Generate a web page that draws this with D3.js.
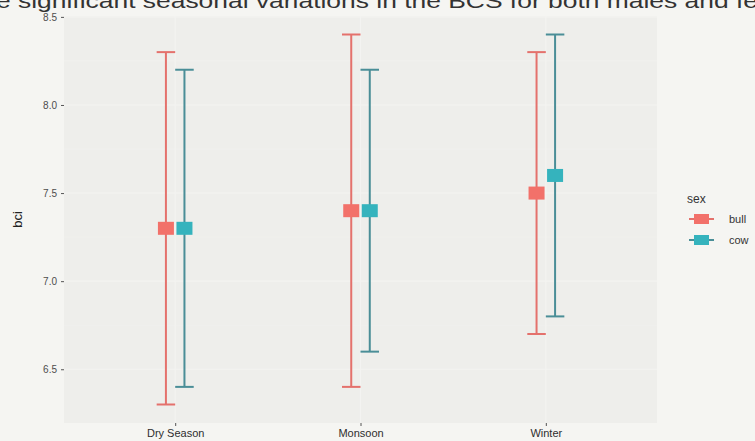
<!DOCTYPE html>
<html>
<head>
<meta charset="utf-8">
<script src="https://cdn.jsdelivr.net/npm/d3@7"></script>
<style>
  html, body { margin: 0; padding: 0; background: #f5f5f2; }
  svg { display: block; font-family: "Liberation Sans", Arial, sans-serif; }
</style>
</head>
<body>
<svg id="chart" width="755" height="441"></svg>
<script>
// Seasonal body condition index (bci) by sex: mean with lower/upper range
const seasons = ["Dry Season", "Monsoon", "Winter"];
const sexes = ["bull", "cow"];
const bullMean = [7.3, 7.4, 7.5];
const bullLow  = [6.3, 6.4, 6.7];
const bullHigh = [8.3, 8.4, 8.3];
const cowMean  = [7.3, 7.4, 7.6];
const cowLow   = [6.4, 6.6, 6.8];
const cowHigh  = [8.2, 8.2, 8.4];
const yTicks = [6.5, 7.0, 7.5, 8.0, 8.5];
const captionText = "e significant seasonal variations in the BCS for both males and fe";

const colors = { bull: "#f2716a", cow: "#35b3bd" };
const barColors = { bull: "#e4716c", cow: "#4a8e97" };

const rows = [];
seasons.forEach((s, i) => {
  rows.push({ season: s, sex: "bull", mean: bullMean[i], low: bullLow[i], high: bullHigh[i] });
  rows.push({ season: s, sex: "cow",  mean: cowMean[i],  low: cowLow[i],  high: cowHigh[i] });
});

const svg = d3.select("#chart");
const panel = { left: 64, right: 657, top: 16, bottom: 423 };

// continuous y with 5% expansion of the data range
const yMin = d3.min(rows, d => d.low), yMax = d3.max(rows, d => d.high);
const pad = (yMax - yMin) * 0.05;
const y = d3.scaleLinear().domain([yMin - pad, yMax + pad]).range([panel.bottom, panel.top]);
const x = d3.scalePoint().domain(seasons).range([panel.left, panel.right]).padding(0.6);
const step = x.step();
const dodge = d3.scalePoint().domain(sexes).range([-0.05 * step, 0.05 * step]);

// caption line running off the top edge
svg.append("text")
  .attr("x", -4).attr("y", 8)
  .attr("font-size", 21).attr("fill", "#333")
  .attr("textLength", 762).attr("lengthAdjust", "spacingAndGlyphs")
  .text(captionText);

// panel background and grid
svg.append("rect")
  .attr("x", panel.left).attr("y", panel.top)
  .attr("width", panel.right - panel.left).attr("height", panel.bottom - panel.top)
  .attr("fill", "#eeeeeb");

const minor = d3.range(yTicks.length - 1).map(i => (yTicks[i] + yTicks[i + 1]) / 2);
svg.append("g").selectAll("line").data(minor).join("line")
  .attr("x1", panel.left).attr("x2", panel.right)
  .attr("y1", d => y(d)).attr("y2", d => y(d))
  .attr("stroke", "#f2f2f0").attr("stroke-width", 0.6);
svg.append("g").selectAll("line").data(yTicks).join("line")
  .attr("x1", panel.left).attr("x2", panel.right)
  .attr("y1", d => y(d)).attr("y2", d => y(d))
  .attr("stroke", "#f3f3f1").attr("stroke-width", 1.1);
svg.append("g").selectAll("line").data(seasons).join("line")
  .attr("x1", d => x(d)).attr("x2", d => x(d))
  .attr("y1", panel.top).attr("y2", panel.bottom)
  .attr("stroke", "#f3f3f1").attr("stroke-width", 1.1);

// axes
const yAxis = d3.axisLeft(y).tickValues(yTicks).tickFormat(d3.format(".1f")).tickSize(3).tickPadding(4);
const gy = svg.append("g").attr("transform", `translate(${panel.left},0)`).call(yAxis);
gy.select(".domain").remove();
gy.selectAll(".tick line").attr("stroke", "#555").attr("stroke-width", 1);
gy.selectAll(".tick text").attr("fill", "#4d4d4d").attr("font-size", 10).attr("font-family", "Liberation Sans, Arial, sans-serif");

const xAxis = d3.axisBottom(x).tickSize(3).tickPadding(3);
const gx = svg.append("g").attr("transform", `translate(0,${panel.bottom})`).call(xAxis);
gx.select(".domain").remove();
gx.selectAll(".tick line").attr("stroke", "#555").attr("stroke-width", 1);
gx.selectAll(".tick text").attr("fill", "#2e2e2e").attr("font-size", 11).attr("font-family", "Liberation Sans, Arial, sans-serif");

svg.append("text")
  .attr("transform", `translate(22,${(panel.top + panel.bottom) / 2}) rotate(-90)`)
  .attr("text-anchor", "middle").attr("font-size", 13).attr("fill", "#222")
  .text("bci");

// error bars
const half = 0.05 * step;
const eb = svg.append("g").selectAll("g").data(rows).join("g")
  .attr("stroke", d => barColors[d.sex]).attr("stroke-width", 2).attr("fill", "none");
eb.append("line")
  .attr("x1", d => x(d.season) + dodge(d.sex)).attr("x2", d => x(d.season) + dodge(d.sex))
  .attr("y1", d => y(d.low)).attr("y2", d => y(d.high));
eb.append("line")
  .attr("x1", d => x(d.season) + dodge(d.sex) - half).attr("x2", d => x(d.season) + dodge(d.sex) + half)
  .attr("y1", d => y(d.high)).attr("y2", d => y(d.high));
eb.append("line")
  .attr("x1", d => x(d.season) + dodge(d.sex) - half).attr("x2", d => x(d.season) + dodge(d.sex) + half)
  .attr("y1", d => y(d.low)).attr("y2", d => y(d.low));

// mean points
const pw = 16, ph = 13;
svg.append("g").selectAll("rect").data(rows).join("rect")
  .attr("x", d => x(d.season) + dodge(d.sex) - pw / 2)
  .attr("y", d => y(d.mean) - ph / 2)
  .attr("width", pw).attr("height", ph)
  .attr("fill", d => colors[d.sex]);

// legend
const lg = svg.append("g").attr("transform", "translate(687,0)");
lg.append("text").attr("x", 0).attr("y", 203).attr("font-size", 12).attr("fill", "#333").text("sex");
const items = lg.selectAll("g.item").data(sexes).join("g").attr("class", "item")
  .attr("transform", (d, i) => `translate(0,${219 + i * 21})`);
items.append("line").attr("x1", 2).attr("x2", 27).attr("y1", 0).attr("y2", 0)
  .attr("stroke", d => barColors[d]).attr("stroke-width", 2);
items.append("rect").attr("x", 7).attr("y", -5).attr("width", 15).attr("height", 10)
  .attr("fill", d => colors[d]);
items.append("text").attr("x", 42).attr("y", 4).attr("font-size", 11).attr("fill", "#333").text(d => d);
</script>
</body>
</html>
